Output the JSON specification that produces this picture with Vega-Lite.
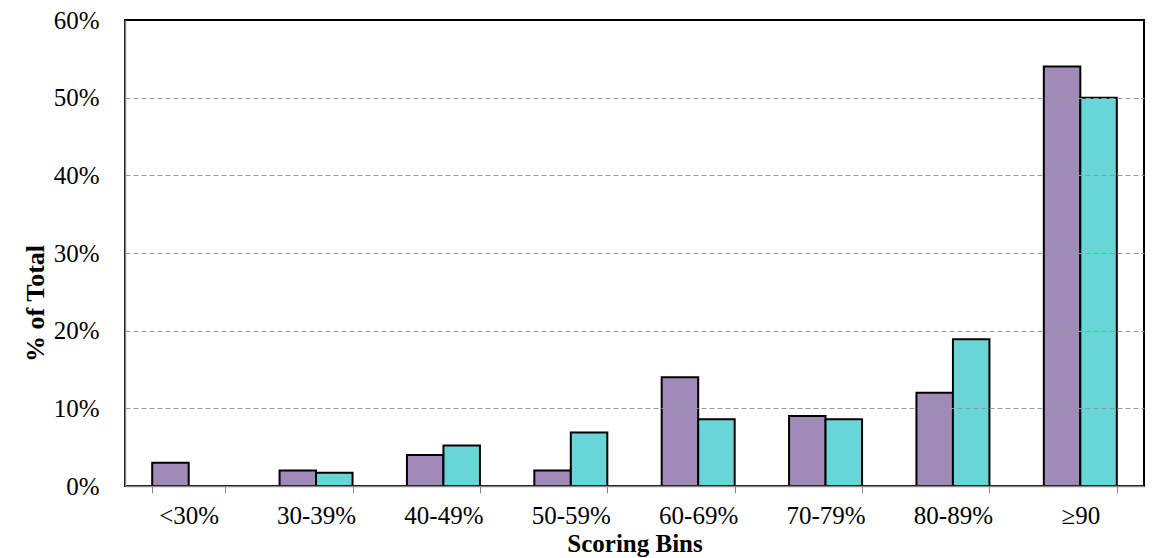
{
  "$schema": "https://vega.github.io/schema/vega-lite/v6.json",
  "width": 1019,
  "height": 466,
  "autosize": {"type": "none"},
  "padding": {"left": 125, "top": 20, "right": 10, "bottom": 72},
  "background": "white",
  "config": {
    "font": "Liberation Serif",
    "view": {"stroke": "black", "strokeWidth": 2}
  },
  "data": {
    "values": [
      {"bin": "<30%", "group": "A", "share": 0.03},
      {"bin": "30-39%", "group": "A", "share": 0.02},
      {"bin": "30-39%", "group": "B", "share": 0.017},
      {"bin": "40-49%", "group": "A", "share": 0.04},
      {"bin": "40-49%", "group": "B", "share": 0.052},
      {"bin": "50-59%", "group": "A", "share": 0.02},
      {"bin": "50-59%", "group": "B", "share": 0.069},
      {"bin": "60-69%", "group": "A", "share": 0.14},
      {"bin": "60-69%", "group": "B", "share": 0.086},
      {"bin": "70-79%", "group": "A", "share": 0.09},
      {"bin": "70-79%", "group": "B", "share": 0.086},
      {"bin": "80-89%", "group": "A", "share": 0.12},
      {"bin": "80-89%", "group": "B", "share": 0.189},
      {"bin": "≥90", "group": "A", "share": 0.54},
      {"bin": "≥90", "group": "B", "share": 0.50}
    ]
  },
  "mark": {"type": "bar", "stroke": "black", "strokeWidth": 2},
  "encoding": {
    "x": {
      "field": "bin",
      "type": "nominal",
      "sort": ["<30%", "30-39%", "40-49%", "50-59%", "60-69%", "70-79%", "80-89%", "≥90"],
      "scale": {"paddingInner": 0.427, "paddingOuter": 0.2135},
      "axis": {
        "title": "Scoring Bins",
        "titleFont": "Liberation Serif",
        "titleFontSize": 25,
        "titleFontWeight": "bold",
        "titleColor": "black",
        "titleBaseline": "alphabetic",
        "titleY": 65,
        "labelAngle": 0,
        "labelFont": "Liberation Serif",
        "labelFontSize": 25,
        "labelColor": "black",
        "labelBaseline": "alphabetic",
        "labelPadding": 30,
        "tickBand": "extent",
        "tickSize": 7,
        "tickColor": "#888888",
        "domainColor": "#888888",
        "domainWidth": 1.5,
        "zindex": 1
      }
    },
    "xOffset": {"field": "group", "type": "nominal", "scale": {"domain": ["A", "B"], "paddingInner": 0, "paddingOuter": 0}},
    "y": {
      "field": "share",
      "type": "quantitative",
      "scale": {"domain": [0, 0.6], "nice": false},
      "axis": {
        "values": [0, 0.1, 0.2, 0.3, 0.4, 0.5, 0.6],
        "format": ".0%",
        "title": "% of Total",
        "titleFont": "Liberation Serif",
        "titleFontSize": 26,
        "titleFontWeight": "bold",
        "titleColor": "black",
        "titleAngle": -90,
        "titleAlign": "center",
        "titleBaseline": "alphabetic",
        "titleX": -82,
        "titleY": 283,
        "labelFont": "Liberation Serif",
        "labelFontSize": 25,
        "labelColor": "black",
        "labelPadding": 26,
        "ticks": false,
        "domainColor": "#888888",
        "domainWidth": 1.5,
        "grid": true,
        "gridColor": "#999999",
        "gridDash": [5, 3],
        "gridWidth": 1,
        "gridOpacity": {"condition": {"test": "datum.value >= 0.59 || datum.value <= 0.01", "value": 0}, "value": 1},
        "zindex": 1
      }
    },
    "color": {
      "field": "group",
      "type": "nominal",
      "scale": {"domain": ["A", "B"], "range": ["#A08AB8", "#68D6D8"]},
      "legend": null
    }
  }
}
